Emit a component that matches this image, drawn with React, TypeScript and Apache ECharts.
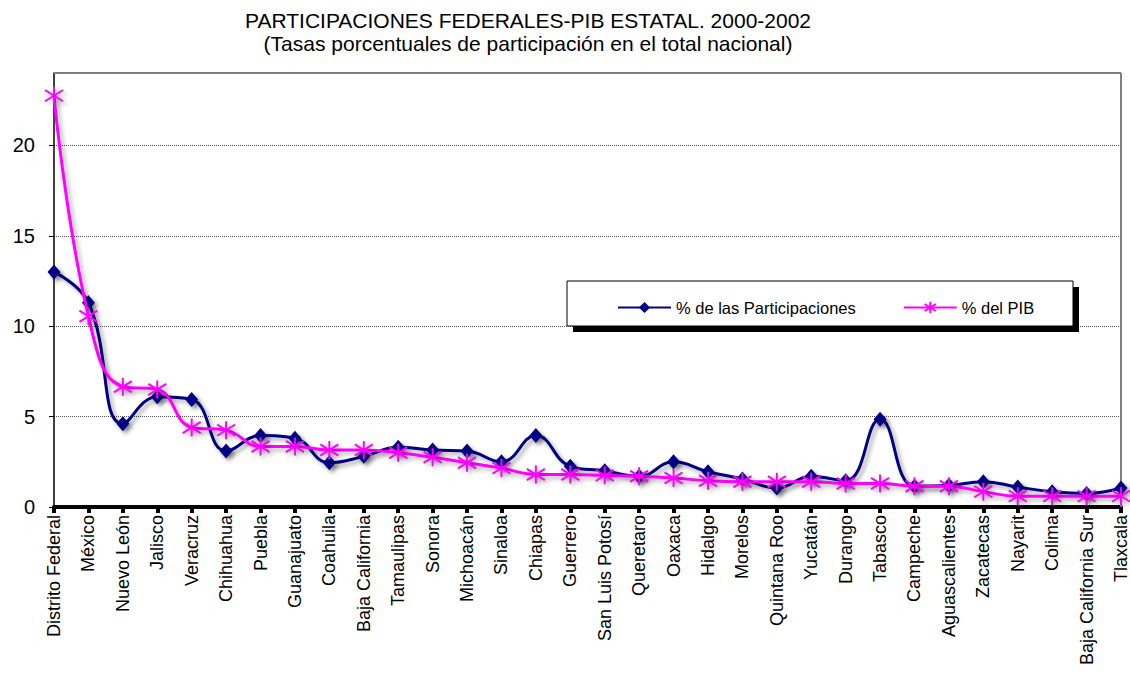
import React, { useEffect, useRef } from 'react';
import * as echarts from 'echarts';

const categories = [
  'Distrito Federal', 'México', 'Nuevo León', 'Jalisco', 'Veracruz', 'Chihuahua',
  'Puebla', 'Guanajuato', 'Coahuila', 'Baja California', 'Tamaulipas', 'Sonora',
  'Michoacán', 'Sinaloa', 'Chiapas', 'Guerrero', 'San Luis Potosí', 'Queretaro',
  'Oaxaca', 'Hidalgo', 'Morelos', 'Quintana Roo', 'Yucatán', 'Durango', 'Tabasco',
  'Campeche', 'Aguascalientes', 'Zacatecas', 'Nayarit', 'Colima', 'Baja California Sur',
  'Tlaxcala',
];

const participaciones = [
  13.0, 11.3, 4.6, 6.1, 5.95, 3.1, 3.95, 3.8, 2.45, 2.8, 3.3, 3.15, 3.1, 2.5, 3.95, 2.25,
  2.0, 1.7, 2.5, 1.95, 1.55, 1.05, 1.7, 1.45, 4.85, 1.15, 1.2, 1.4, 1.1, 0.85, 0.75, 1.05,
];

const pib = [
  22.75, 10.55, 6.65, 6.5, 4.4, 4.25, 3.35, 3.35, 3.15, 3.15, 3.0, 2.75, 2.45, 2.15, 1.8, 1.8,
  1.75, 1.7, 1.6, 1.45, 1.4, 1.4, 1.4, 1.3, 1.3, 1.15, 1.15, 0.85, 0.6, 0.6, 0.6, 0.6,
];

const yTicks = [0, 5, 10, 15, 20];

const seriesNames = ['% de las Participaciones', '% del PIB'];
const titleLines = [
  'PARTICIPACIONES FEDERALES-PIB ESTATAL. 2000-2002',
  '(Tasas porcentuales de participación en el total nacional)',
];

const FONT = '"Liberation Sans", Arial, Helvetica, sans-serif';
const STAR = 'path://M8,0 L8,16 M1,3 L15,13 M1,13 L15,3';

export default function App() {
  const ref = useRef<HTMLDivElement>(null);

  useEffect(() => {
    document.body.style.margin = '0';
    const chart = echarts.init(ref.current!, null, { renderer: 'svg' });
    const gridLeft = 54;
    const gridTop = 73;
    const gridRightX = 1121;
    const gridBottomY = 507;

    chart.setOption({
      animation: false,
      backgroundColor: '#ffffff',
      textStyle: { fontFamily: FONT },
      title: {
        text: titleLines.join('\n'),
        left: 523,
        top: 4,
        textAlign: 'center',
        textStyle: {
          fontFamily: FONT,
          fontSize: 21,
          fontWeight: 'normal',
          color: '#000',
          lineHeight: 23,
        },
      },
      grid: {
        left: gridLeft,
        top: gridTop,
        right: 1130 - gridRightX,
        bottom: 674 - gridBottomY,
        containLabel: false,
      },
      legend: {
        left: 612,
        top: 294,
        itemWidth: 53,
        itemHeight: 14,
        itemGap: 47,
        z: 6,
        data: seriesNames,
        textStyle: { fontFamily: FONT, fontSize: 16.5, color: '#000' },
      },
      xAxis: {
        type: 'category',
        data: categories,
        boundaryGap: false,
        axisLine: { lineStyle: { color: '#000', width: 4 } },
        axisTick: {
          show: true,
          interval: 0,
          length: 6,
          lineStyle: { color: '#000', width: 4 },
        },
        axisLabel: {
          interval: 0,
          rotate: 90,
          margin: 8,
          fontSize: 18,
          fontFamily: FONT,
          color: '#000',
        },
        splitLine: { show: false },
      },
      yAxis: {
        type: 'value',
        min: 0,
        max: 24,
        interval: 5,
        axisLine: { show: true, lineStyle: { color: '#000', width: 1.5 } },
        axisTick: {
          show: true,
          length: 5,
          customValues: yTicks,
          lineStyle: { color: '#000', width: 1 },
        },
        axisLabel: {
          customValues: yTicks,
          margin: 19,
          fontSize: 20,
          fontFamily: FONT,
          color: '#000',
        },
        splitLine: {
          show: true,
          lineStyle: { color: '#555', type: [1, 1], width: 1 },
        },
      },
      graphic: [
        {
          type: 'line',
          z: 1,
          shape: { x1: gridLeft, y1: gridTop, x2: gridRightX, y2: gridTop },
          style: { stroke: '#808080', lineWidth: 2 },
        },
        {
          type: 'line',
          z: 1,
          shape: { x1: gridRightX, y1: gridTop, x2: gridRightX, y2: gridBottomY },
          style: { stroke: '#808080', lineWidth: 2 },
        },
        {
          type: 'rect',
          z: 4,
          shape: { x: 573, y: 287, width: 506, height: 45 },
          style: { fill: '#000' },
        },
        {
          type: 'rect',
          z: 5,
          shape: { x: 567, y: 281, width: 506, height: 45 },
          style: { fill: '#fff', stroke: '#000', lineWidth: 1 },
        },
      ],
      series: [
        {
          name: seriesNames[0],
          type: 'line',
          data: participaciones,
          smooth: 0.45,
          symbol: 'diamond',
          symbolSize: [13, 15],
          z: 3,
          lineStyle: {
            color: '#000080',
            width: 3,
            shadowBlur: 4,
            shadowColor: 'rgba(0,0,0,0.35)',
            shadowOffsetX: 3,
            shadowOffsetY: 3,
          },
          itemStyle: {
            color: '#000080',
            shadowBlur: 4,
            shadowColor: 'rgba(0,0,0,0.4)',
            shadowOffsetX: 3,
            shadowOffsetY: 3,
          },
        },
        {
          name: seriesNames[1],
          type: 'line',
          data: pib,
          smooth: 0.45,
          symbol: STAR,
          symbolSize: 18,
          z: 4,
          lineStyle: {
            color: '#FF00FF',
            width: 3,
            shadowBlur: 4,
            shadowColor: 'rgba(0,0,0,0.3)',
            shadowOffsetX: 3,
            shadowOffsetY: 3,
          },
          itemStyle: {
            color: '#FF00FF',
            borderColor: '#FF00FF',
            borderWidth: 2,
            shadowBlur: 4,
            shadowColor: 'rgba(0,0,0,0.3)',
            shadowOffsetX: 3,
            shadowOffsetY: 3,
          },
        },
      ],
    });

    return () => chart.dispose();
  }, []);

  return <div ref={ref} style={{ width: 1130, height: 674 }} />;
}
